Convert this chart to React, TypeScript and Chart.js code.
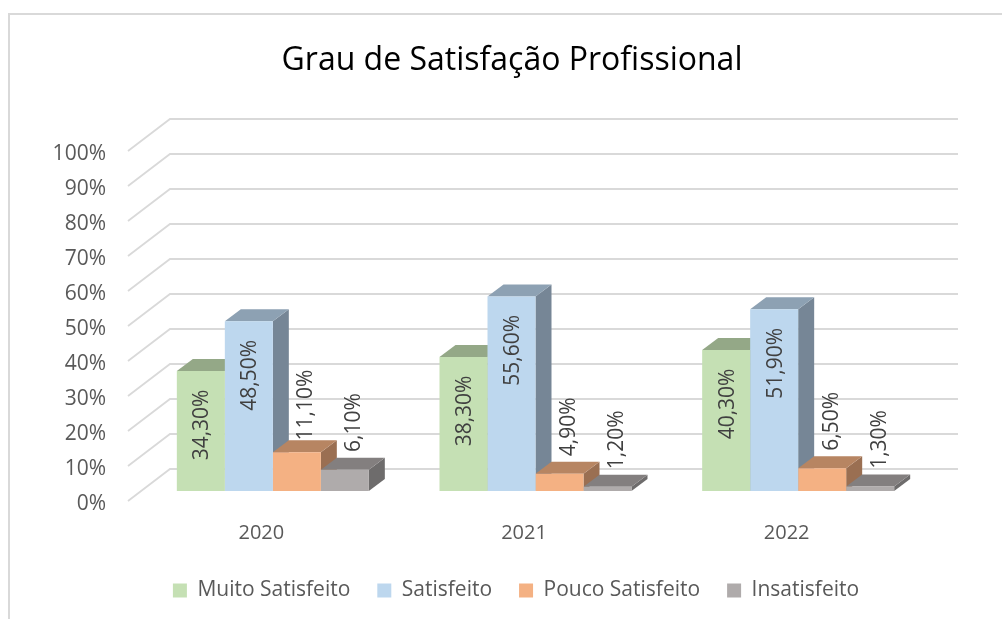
import React, { useEffect, useRef } from "react";
import { Chart, registerables } from "chart.js";

Chart.register(...registerables);

const FONT = '"Open Sans", sans-serif';
const categories = ["2020", "2021", "2022"];
const seriesNames = ["Muito Satisfeito", "Satisfeito", "Pouco Satisfeito", "Insatisfeito"];
const muitoSatisfeito = [34.3, 38.3, 40.3];
const satisfeito = [48.5, 55.6, 51.9];
const poucoSatisfeito = [11.1, 4.9, 6.5];
const insatisfeito = [6.1, 1.2, 1.3];
const frontColors = ["#C5E0B4", "#BDD7EE", "#F4B183", "#AFABAB"];
const topColors = ["#94A887", "#8DA1B3", "#B78562", "#837F7F"];
const sideColors = ["#7C8D71", "#768696", "#9A6F52", "#6E6C6C"];

const WALL_DX = 42;
const WALL_DY = 32;
const BAR_DX = 16;
const BAR_DY = 12;
const SHIFT_X = 13.5;
const SHIFT_Y = 10;
const GRID = "#D9D9D9";

const pct = (v: number) => v.toFixed(2).replace(".", ",") + "%";

const box3d = {
  id: "box3d",
  afterLayout(chart: any) {
    chart.legend.left += 4;
    chart.legend.right += 4;
  },
  beforeDatasetsDraw(chart: any) {
    const { ctx, scales, chartArea } = chart;
    const y = scales.y;
    ctx.save();
    ctx.strokeStyle = GRID;
    ctx.lineWidth = 1.8;
    y.ticks.forEach((t: any) => {
      const py = y.getPixelForValue(t.value);
      ctx.beginPath();
      ctx.moveTo(chartArea.left, py);
      ctx.lineTo(chartArea.left + WALL_DX, py - WALL_DY);
      ctx.lineTo(chartArea.right + WALL_DX, py - WALL_DY);
      ctx.stroke();
    });
    ctx.restore();

    ctx.save();
    ctx.translate(SHIFT_X, -SHIFT_Y);
    categories.forEach((_, c) => {
      chart.data.datasets.forEach((_d: any, s: number) => {
        const b = chart.getDatasetMeta(s).data[c];
        const half = b.width / 2;
        const l = b.x - half;
        const r = b.x + half;
        ctx.fillStyle = sideColors[s];
        ctx.beginPath();
        ctx.moveTo(r, b.y);
        ctx.lineTo(r + BAR_DX, b.y - BAR_DY);
        ctx.lineTo(r + BAR_DX, b.base - BAR_DY);
        ctx.lineTo(r, b.base);
        ctx.closePath();
        ctx.fill();
        ctx.fillStyle = topColors[s];
        ctx.beginPath();
        ctx.moveTo(l, b.y);
        ctx.lineTo(l + BAR_DX, b.y - BAR_DY);
        ctx.lineTo(r + BAR_DX, b.y - BAR_DY);
        ctx.lineTo(r, b.y);
        ctx.closePath();
        ctx.fill();
      });
    });
  },
  afterDatasetsDraw(chart: any) {
    const { ctx } = chart;
    ctx.restore();
    ctx.save();
    ctx.fillStyle = "#404040";
    ctx.font = `21px ${FONT}`;
    ctx.textAlign = "center";
    ctx.textBaseline = "middle";
    chart.data.datasets.forEach((d: any, s: number) => {
      chart.getDatasetMeta(s).data.forEach((b: any, c: number) => {
        const v = d.data[c];
        const tall = s < 2;
        const x = b.x + SHIFT_X + (tall ? 1.5 : 9.5);
        const top = b.y - SHIFT_Y;
        const yy = tall ? top + 54 : top - 47;
        ctx.save();
        ctx.translate(x, yy);
        ctx.rotate(-Math.PI / 2);
        ctx.fillText(pct(v), 0, 0);
        ctx.restore();
      });
    });
    ctx.restore();
  },
};

export default function App() {
  const ref = useRef<HTMLCanvasElement>(null);
  useEffect(() => {
    const series = [muitoSatisfeito, satisfeito, poucoSatisfeito, insatisfeito];
    const chart = new Chart(ref.current!, {
      type: "bar",
      data: {
        labels: categories,
        datasets: series.map((data, i) => ({
          label: seriesNames[i],
          data,
          backgroundColor: frontColors[i],
          borderWidth: 0,
          clip: false as any,
          categoryPercentage: 0.731,
          barPercentage: 1,
        })),
      },
      plugins: [box3d],
      options: {
        responsive: false,
        animation: false,
        layout: { padding: { left: 0, right: 0, top: 0, bottom: 8 } },
        plugins: {
          tooltip: { enabled: false },
          title: {
            display: true,
            text: "Grau de Satisfação Profissional",
            color: "#000000",
            font: { family: FONT, size: 32, weight: "normal" },
            padding: { top: 42, bottom: 70.6 },
          },
          legend: {
            position: "bottom",
            labels: {
              boxWidth: 14,
              boxHeight: 14,
              padding: 27,
              color: "#595959",
              font: { family: FONT, size: 21 },
            },
          },
        },
        scales: {
          x: {
            grid: { display: false },
            border: { display: false },
            afterFit: (s: any) => { s.height = 52; },
            ticks: { color: "#595959", font: { family: FONT, size: 20 }, padding: 12, labelOffset: 2 },
          },
          y: {
            min: 0,
            max: 100,
            grid: { display: false },
            border: { display: false },
            afterFit: (s: any) => { s.width = 128; },
            ticks: {
              stepSize: 10,
              padding: 14,
              labelOffset: 3,
              color: "#595959",
              font: { family: FONT, size: 21 },
              callback: (v: any) => v + "%",
            },
          },
          y2: {
            position: "right",
            min: 0,
            max: 100,
            grid: { display: false },
            border: { display: false },
            ticks: { display: false },
            afterFit: (s: any) => { s.width = 108; },
          },
        },
      },
    });
    return () => chart.destroy();
  }, []);
  return (
    <div style={{ position: "absolute", left: 0, top: 0, width: 1002, height: 619, overflow: "hidden", background: "#fff" }}>
      <div style={{ position: "absolute", left: 8, top: 13, width: 1100, height: 700, border: `2px solid ${GRID}` }} />
      <canvas ref={ref} width={1024} height={619} style={{ position: "absolute", left: 0, top: 0 }} />
    </div>
  );
}
